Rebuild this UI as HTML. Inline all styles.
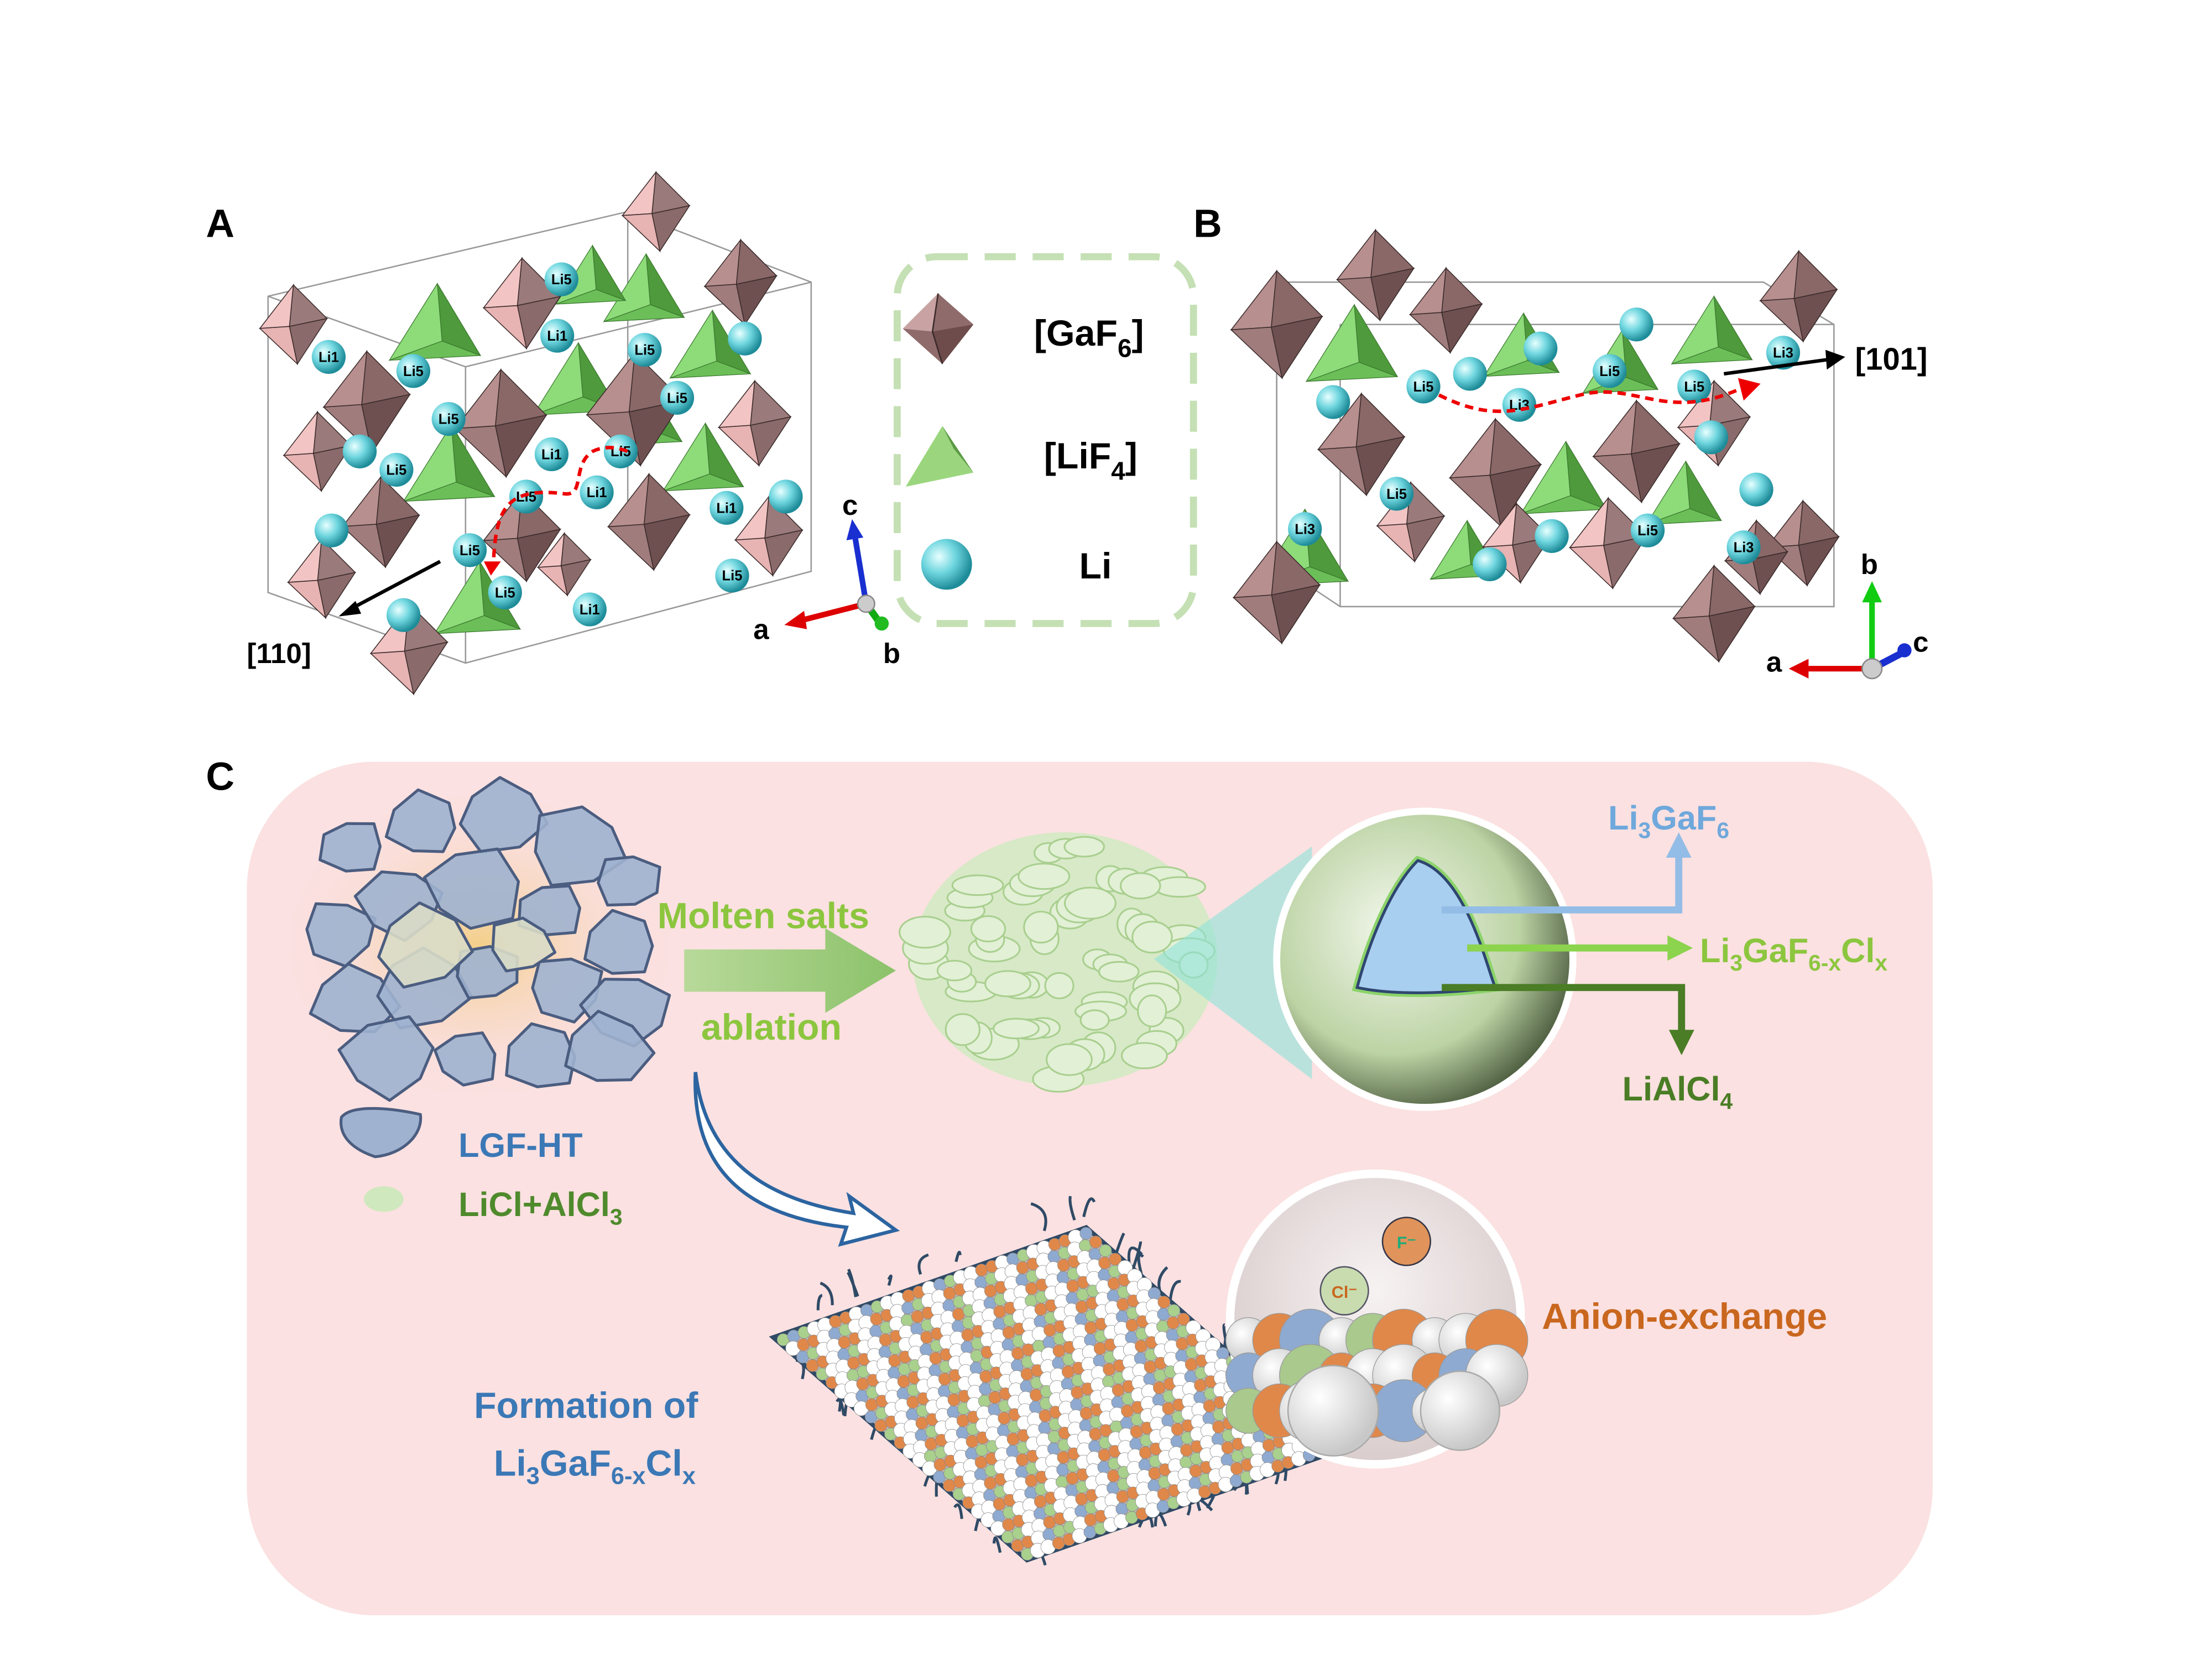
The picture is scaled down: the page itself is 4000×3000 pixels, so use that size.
<!DOCTYPE html>
<html><head><meta charset="utf-8">
<style>
html,body{margin:0;padding:0;background:#fff;}
svg{display:block;}
text{font-family:"Liberation Sans",Arial,sans-serif;font-weight:bold;}
</style></head>
<body>
<svg id="s" width="4000" height="3000" viewBox="0 0 1568 1176" xmlns="http://www.w3.org/2000/svg">
<defs>
<radialGradient id="cy" cx="35%" cy="35%" r="65%"><stop offset="0" stop-color="#e8ffff"/><stop offset="0.5" stop-color="#6fd6df"/><stop offset="1" stop-color="#1e8c99"/></radialGradient>
<radialGradient id="big" cx="40%" cy="40%" r="70%"><stop offset="0" stop-color="#f4f8ee"/><stop offset="0.6" stop-color="#bcd3a4"/><stop offset="1" stop-color="#2c3a22"/></radialGradient>
<radialGradient id="glow" cx="50%" cy="50%" r="50%"><stop offset="0" stop-color="#f3d08a"/><stop offset="1" stop-color="#f9d8d8" stop-opacity="0"/></radialGradient>
<radialGradient id="circ" cx="50%" cy="40%" r="60%"><stop offset="0" stop-color="#f7f2f2"/><stop offset="1" stop-color="#d9cccc"/></radialGradient>
<radialGradient id="wb" cx="35%" cy="35%" r="65%"><stop offset="0" stop-color="#fff"/><stop offset="1" stop-color="#c8c8c8"/></radialGradient>
<linearGradient id="ga" x1="0" x2="1"><stop offset="0" stop-color="#b8d99a"/><stop offset="1" stop-color="#8cc26a"/></linearGradient>
</defs>
<rect x="175" y="540" width="1195" height="605" rx="90" fill="#fbe1e1"/>
<text x="146" y="168" font-size="28">A</text>
<text x="846" y="168" font-size="28">B</text>
<text x="146" y="560" font-size="28">C</text>
<g fill="none" stroke="#999" stroke-width="1">
<polygon points="190,210 445,150 575,200 575,405 330,470 190,420"/>
<line x1="445" y1="150" x2="445" y2="360"/><line x1="330" y1="260" x2="575" y2="200"/><line x1="190" y1="210" x2="330" y2="260"/><line x1="330" y1="260" x2="330" y2="470"/>
<polygon points="905,200 1250,200 1300,230 1300,430 950,430 905,400"/>
<line x1="905" y1="200" x2="905" y2="400"/><line x1="950" y1="230" x2="1300" y2="230"/><line x1="950" y1="230" x2="950" y2="430"/>
</g>
<g id="A"></g><g id="B"></g>
<path d="M350,395 C352,360 360,345 400,350 C415,352 405,330 420,320 C430,315 440,318 445,320" fill="none" stroke="#e00" stroke-width="2.5" stroke-dasharray="6,4"/>
<polygon points="343,398 355,398 348,408" fill="#e00"/>
<path d="M1020,280 C1060,300 1080,290 1120,280 C1160,270 1180,300 1235,275" fill="none" stroke="#e00" stroke-width="2.5" stroke-dasharray="6,4"/>
<polygon points="1232,268 1248,272 1236,284" fill="#e00"/>
<line x1="312" y1="398" x2="248" y2="432" stroke="#000" stroke-width="2.5"/><polygon points="240,437 252,426 256,435" fill="#000"/>
<text x="175" y="470" font-size="20">[110]</text>
<line x1="1222" y1="265" x2="1295" y2="255" stroke="#000" stroke-width="2.5"/><polygon points="1308,253 1294,248 1295,262" fill="#000"/>
<text x="1315" y="262" font-size="22">[101]</text>
<line x1="614" y1="428" x2="567" y2="440" stroke="#d00" stroke-width="4"/><polygon points="556,443 570,433 572,446" fill="#d00"/>
<line x1="614" y1="428" x2="606" y2="380" stroke="#1a2fd0" stroke-width="4"/><polygon points="604,368 600,383 612,381" fill="#1a2fd0"/>
<line x1="614" y1="428" x2="624" y2="442" stroke="#1a1" stroke-width="5"/><circle cx="625" cy="442" r="5" fill="#2b2"/><circle cx="614" cy="428" r="6" fill="#ccc" stroke="#888"/>
<text x="534" y="453" font-size="20">a</text><text x="597" y="365" font-size="20">c</text><text x="626" y="470" font-size="20">b</text>
<line x1="1327" y1="474" x2="1280" y2="474" stroke="#d00" stroke-width="4"/><polygon points="1268,474 1282,467 1282,481" fill="#d00"/>
<line x1="1327" y1="474" x2="1327" y2="425" stroke="#1c1" stroke-width="4"/><polygon points="1327,412 1320,427 1334,427" fill="#1c1"/>
<line x1="1327" y1="474" x2="1350" y2="462" stroke="#1a2fd0" stroke-width="5"/><circle cx="1350" cy="461" r="5" fill="#1a2fd0"/><circle cx="1327" cy="474" r="7" fill="#ccc" stroke="#888"/>
<text x="1252" y="476" font-size="20">a</text><text x="1319" y="407" font-size="20">b</text><text x="1356" y="462" font-size="20">c</text>
<rect x="636" y="182" width="210" height="260" rx="28" fill="none" stroke="#c5e0b4" stroke-width="5" stroke-dasharray="22,12"/>
<g transform="translate(665,233)"><polygon points="0,-25 25,-3 3,25 -25,0" fill="#8f6b6b"/><polygon points="0,-25 -25,0 -4,2" fill="#c9a3a3"/><polygon points="-4,2 3,25 25,-3" fill="#6e4c4c"/><polyline points="0,-25 -4,2 3,25 M-25,0 -4,2 25,-3" fill="none" stroke="#3a2a2a" stroke-width="1"/></g>
<polygon points="668,302 642,345 690,335" fill="#9bd67e"/><polygon points="668,302 690,335 676,318" fill="#5c9a44"/>
<circle cx="671" cy="400" r="18" fill="url(#cy)"/>
<text x="733" y="245" font-size="26">[GaF<tspan font-size="18" dy="8">6</tspan><tspan dy="-8">]</tspan></text>
<text x="740" y="332" font-size="26">[LiF<tspan font-size="18" dy="8">4</tspan><tspan dy="-8">]</tspan></text>
<text x="765" y="410" font-size="26">Li</text>
<ellipse cx="340" cy="670" rx="140" ry="110" fill="url(#glow)"/>
<g id="clus"></g>
<g transform="translate(270,800)"><path d="M-28,-8 C-20,-18 10,-14 28,-10 C30,4 16,18 -4,20 C-22,14 -30,4 -28,-8Z" fill="#9fb2cf" stroke="#4b5d80" stroke-width="2"/></g>
<ellipse cx="272" cy="850" rx="14" ry="9" fill="#cfe8bd"/>
<text x="325" y="820" font-size="24" fill="#3b78b6">LGF-HT</text>
<text x="325" y="862" font-size="24" fill="#4f8a2c">LiCl+AlCl<tspan font-size="16" dy="6">3</tspan></text>
<polygon points="485,673 585,673 585,658 635,688 585,718 585,703 485,703" fill="url(#ga)"/>
<text x="466" y="658" font-size="26" fill="#8cc63f">Molten salts</text>
<text x="497" y="737" font-size="26" fill="#8cc63f">ablation</text>
<g id="gblob"></g>
<polygon points="818,680 930,600 930,765" fill="#8fe3da" opacity="0.6"/>
<circle cx="1010" cy="680" r="105" fill="url(#big)" stroke="#fff" stroke-width="5"/>
<path d="M1005,610 C1040,620 1055,690 1060,700 C1020,705 985,705 962,700 C970,670 985,630 1005,610Z" fill="#a8cef0" stroke="#8bd36a" stroke-width="6"/>
<path d="M1005,610 C1040,620 1055,690 1060,700 C1020,705 985,705 962,700 C970,670 985,630 1005,610Z" fill="#a8cef0" stroke="#2f4670" stroke-width="2"/>
<polyline points="1022,645 1190,645 1190,605" fill="none" stroke="#93bde6" stroke-width="5"/><polygon points="1190,590 1181,608 1199,608" fill="#93bde6"/>
<line x1="1040" y1="672" x2="1185" y2="672" stroke="#8cd34e" stroke-width="5"/><polygon points="1200,672 1182,663 1182,681" fill="#8cd34e"/>
<polyline points="1022,700 1192,700 1192,733" fill="none" stroke="#4a7d25" stroke-width="5"/><polygon points="1192,748 1183,730 1201,730" fill="#4a7d25"/>
<text x="1140" y="588" font-size="24" fill="#6fa8dc">Li<tspan font-size="16" dy="6">3</tspan><tspan dy="-6">GaF</tspan><tspan font-size="16" dy="6">6</tspan></text>
<text x="1205" y="682" font-size="24" fill="#8cc63f">Li<tspan font-size="16" dy="6">3</tspan><tspan dy="-6">GaF</tspan><tspan font-size="16" dy="6">6-x</tspan><tspan dy="-6">Cl</tspan><tspan font-size="16" dy="6">x</tspan></text>
<text x="1150" y="780" font-size="24" fill="#4a7d25">LiAlCl<tspan font-size="16" dy="6">4</tspan></text>
<path d="M493,760 C500,820 540,850 605,860 L602,848 L635,872 L596,882 L600,870 C530,862 490,830 493,760Z" fill="#fff" stroke="#2c64a0" stroke-width="2.5"/>
<g id="slab"></g>
<circle cx="975" cy="935" r="103" fill="url(#circ)" stroke="#fff" stroke-width="6"/>
<g id="balls"></g>
<text x="1093" y="942" font-size="26" fill="#c9671f">Anion-exchange</text>
<text x="336" y="1005" font-size="26" fill="#3b78b6">Formation of</text>
<text x="350" y="1046" font-size="26" fill="#3b78b6">Li<tspan font-size="17" dy="6">3</tspan><tspan dy="-6">GaF</tspan><tspan font-size="17" dy="6">6-x</tspan><tspan dy="-6">Cl</tspan><tspan font-size="17" dy="6">x</tspan></text>
</svg>
<script>
var NS="http://www.w3.org/2000/svg";
function el(p,t,a,txt){var e=document.createElementNS(NS,t);for(var k in a)e.setAttribute(k,a[k]);if(txt)e.textContent=txt;p.appendChild(e);return e;}
function oct(g,cx,cy,s,pink){
 var T=[cx,cy-s],R=[cx+s*0.85,cy-0.15*s],B=[cx+0.1*s,cy+s],L=[cx-s*0.85,cy+0.1*s],F=[cx-0.1*s,cy+0.05*s];
 var c=pink?["#f2c4c4","#9a7a7a","#8a6a6a","#e7b3b3"]:["#b78f8f","#8a6868","#6e5050","#a07c7c"];
 function f(a,b,c2,col){el(g,"polygon",{points:a+" "+b+" "+c2,fill:col,stroke:"#3a2a2a","stroke-width":0.6});}
 f(T,L,F,c[0]);f(T,F,R,c[1]);f(L,F,B,c[3]);f(F,R,B,c[2]);}
function tet(g,cx,cy,s){var T=[cx,cy-s],L=[cx-s,cy+0.6*s],R=[cx+s*0.9,cy+0.5*s],F=[cx+0.1*s,cy+0.2*s];
 el(g,"polygon",{points:T+" "+L+" "+F,fill:"#8edb7a",stroke:"#3c7a30","stroke-width":0.5});
 el(g,"polygon",{points:T+" "+F+" "+R,fill:"#4e9a3c",stroke:"#3c7a30","stroke-width":0.5});
 el(g,"polygon",{points:L+" "+F+" "+R,fill:"#6cbf58",stroke:"#3c7a30","stroke-width":0.5});}
function li(g,x,y,l){el(g,"circle",{cx:x,cy:y,r:12,fill:"url(#cy)"});if(l)el(g,"text",{x:x,y:y+3.5,"font-size":10,"text-anchor":"middle"},l);}
var A=document.getElementById("A");
[[310,235,34],[458,210,30],[505,250,30],[410,275,32],[320,335,34],[500,330,30],[340,430,32],[460,300,26],[420,200,26]].forEach(function(o){tet(A,o[0],o[1],o[2]);});
[[465,150,28,1],[208,230,28,1],[370,215,32,1],[525,200,30,0],[260,285,36,0],[225,320,28,1],[355,300,38,0],[450,290,40,0],[535,300,30,1],[270,370,32,0],[370,380,32,0],[460,370,34,0],[545,380,28,1],[228,410,28,1],[290,460,32,1],[400,400,22,1]].forEach(function(o){oct(A,o[0],o[1],o[2],o[3]);});
[[398,198,"Li5"],[233,253,"Li1"],[293,263,"Li5"],[395,238,"Li1"],[457,248,"Li5"],[318,297,"Li5"],[281,333,"Li5"],[391,322,"Li1"],[440,320,"Li5"],[373,352,"Li5"],[423,349,"Li1"],[333,390,"Li5"],[358,420,"Li5"],[519,408,"Li5"],[418,432,"Li1"],[255,320,""],[235,376,""],[286,436,""],[557,352,""],[528,240,""],[480,282,"Li5"],[515,360,"Li1"]].forEach(function(o){li(A,o[0],o[1],o[2]);});
var Bg=document.getElementById("B");
[[960,250,34],[1215,240,30],[1150,262,28],[1110,345,32],[925,395,34],[1195,355,28],[1080,250,28],[1040,395,26]].forEach(function(o){tet(Bg,o[0],o[1],o[2]);});
[[905,230,38,0],[975,195,32,0],[1275,210,32,0],[1025,220,30,0],[965,315,36,0],[1060,335,38,0],[1160,320,36,0],[1215,300,30,1],[905,420,36,0],[1215,435,34,0],[1278,385,30,0],[1000,370,28,1],[1140,385,32,1],[1075,385,28,1],[1245,395,26,0]].forEach(function(o){oct(Bg,o[0],o[1],o[2],o[3]);});
[[1009,274,"Li5"],[1077,287,"Li3"],[1141,263,"Li5"],[1201,274,"Li5"],[1264,250,"Li3"],[925,375,"Li3"],[990,350,"Li5"],[1168,376,"Li5"],[1236,388,"Li3"],[1092,247,""],[1160,230,""],[1042,265,""],[945,285,""],[1213,310,""],[1245,347,""],[1056,400,""],[1100,380,""]].forEach(function(o){li(Bg,o[0],o[1],o[2]);});
var C=document.getElementById("clus");
var pts=[[250,600],[300,585],[355,578],[410,600],[445,625],[240,660],[285,640],[335,630],[390,645],[440,670],[250,710],[300,700],[345,690],[400,700],[445,715],[275,750],[330,750],[385,750],[430,745],[300,670],[370,670]];
pts.forEach(function(p,i){var r=26+(i%4)*4,d="";for(var k=0;k<7;k++){var a=k/7*6.283+i,rr=r*(0.75+0.3*((i*7+k*3)%5)/5);d+=(k?"L":"M")+(p[0]+rr*Math.cos(a)).toFixed(1)+","+(p[1]+rr*0.85*Math.sin(a)).toFixed(1);}
 el(C,"path",{d:d+"Z",fill:(i>18?"#d9dcc6":"#9fb2cf"),"fill-opacity":0.9,stroke:"#4b5d80","stroke-width":2,"stroke-linejoin":"round"});});
var G=document.getElementById("gblob");
el(G,"ellipse",{cx:755,cy:680,rx:108,ry:90,fill:"#d7e9c6"});
for(var i=0;i<60;i++){var a=i*2.4,r=85*Math.sqrt((i%20+1)/20);var x=755+r*Math.cos(a)*1.2,y=680+r*Math.sin(a);
 el(G,"ellipse",{cx:x.toFixed(1),cy:y.toFixed(1),rx:10+(i%5)*2,ry:7+(i%3)*2,fill:"#e2f0d6",stroke:"#a9cf8f","stroke-width":1.2});}
var S=document.getElementById("slab");
var L0=[548,948],U=[222,-78],V=[180,158];
for(var k=0;k<40;k++){var t=k/40,ed=k%4;var bx,by;
 if(ed==0){bx=L0[0]+U[0]*t*4%U[0];}
 var uu=Math.random(),side=k%4,px,py;
 if(side==0){px=L0[0]+U[0]*uu;py=L0[1]+U[1]*uu;py-=8;}else if(side==1){px=L0[0]+V[0]*uu;py=L0[1]+V[1]*uu;px-=6;py+=6;}else if(side==2){px=L0[0]+U[0]+V[0]*uu;py=L0[1]+U[1]+V[1]*uu;}else{px=L0[0]+V[0]+U[0]*uu;py=L0[1]+V[1]+U[1]*uu;py+=8;}
 el(S,"path",{d:"M"+px.toFixed(1)+","+py.toFixed(1)+" q"+(6-12*Math.random()).toFixed(1)+","+(-10-10*Math.random()).toFixed(1)+" "+(10-20*Math.random()).toFixed(1)+","+(-20*Math.random()).toFixed(1),stroke:"#2f4a66","stroke-width":2,fill:"none"});}
el(S,"polygon",{points:L0+" "+(L0[0]+U[0])+","+(L0[1]+U[1])+" "+(L0[0]+U[0]+V[0])+","+(L0[1]+U[1]+V[1])+" "+(L0[0]+V[0])+","+(L0[1]+V[1]),fill:"#c9b8b8",stroke:"#2f4a66","stroke-width":3});
var cols=["#ffffff","#e0884a","#ffffff","#8faad0","#e0884a","#ffffff","#a9d08d"];
var NU=30,NV=26;
for(var v=0;v<NV;v++)for(var u=0;u<NU;u++){var x=L0[0]+U[0]*(u+0.5)/NU+V[0]*(v+0.5)/NV,y=L0[1]+U[1]*(u+0.5)/NU+V[1]*(v+0.5)/NV;
 var c=cols[(u*3+v*5)%7];if((u*7+v*11)%23==0)c="#a9d08d";
 el(S,"circle",{cx:x.toFixed(1),cy:y.toFixed(1),r:c=="#ffffff"?5.2:4.3,fill:c,stroke:"#888","stroke-width":0.3});}
var Bl=document.getElementById("balls");
var bc=["#ffffff","#e0884a","#8faad0","#ffffff","#a9c98d","#e0884a","#ffffff"];
for(var i=0;i<26;i++){var x=885+(i%9)*22,y=950+Math.floor(i/9)*25;el(Bl,"circle",{cx:x,cy:y,r:16+(i%3)*3,fill:bc[i%7]=="#ffffff"?"url(#wb)":bc[i%7],stroke:"#999","stroke-width":0.5});}
el(Bl,"circle",{cx:945,cy:1000,r:32,fill:"url(#wb)",stroke:"#aaa"});
el(Bl,"circle",{cx:1035,cy:1000,r:28,fill:"url(#wb)",stroke:"#aaa"});
el(Bl,"circle",{cx:953,cy:915,r:17,fill:"#c8dcb0",stroke:"#556"});el(Bl,"text",{x:953,y:920,"font-size":12,"text-anchor":"middle",fill:"#c9671f"},"Cl⁻");
el(Bl,"circle",{cx:997,cy:880,r:17,fill:"#e0935a",stroke:"#334"});el(Bl,"text",{x:997,y:885,"font-size":12,"text-anchor":"middle",fill:"#2a7"},"F⁻");
</script>
</body></html>
